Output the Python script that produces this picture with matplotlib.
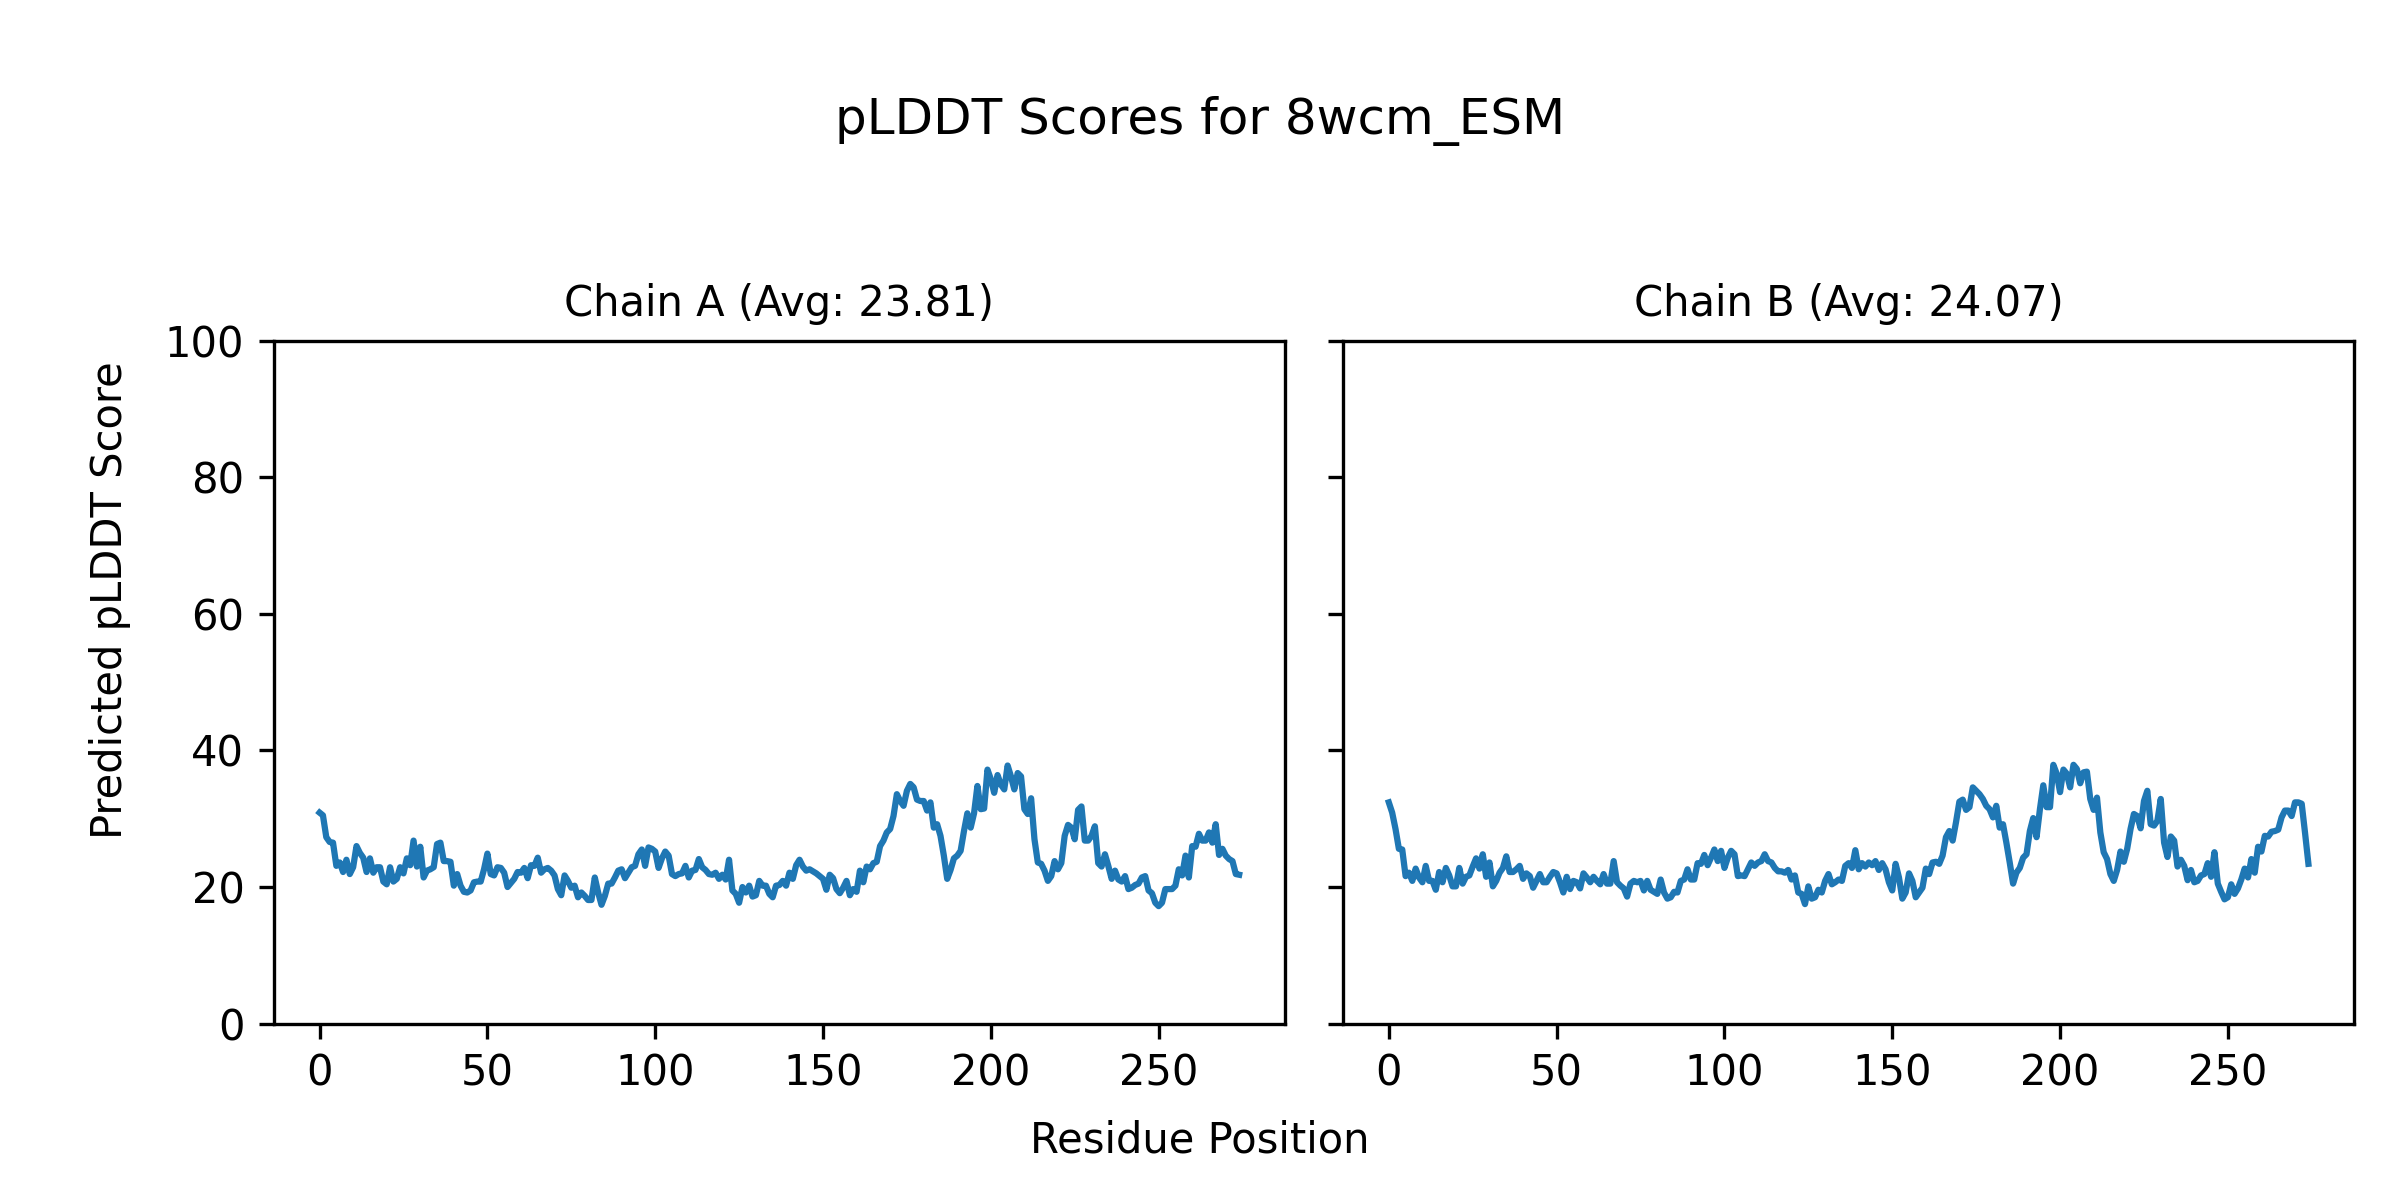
import matplotlib
matplotlib.use('Agg')
import matplotlib.pyplot as plt
import numpy as np

model_name = '8wcm_ESM'

# pLDDT per residue
chain_a = [
    30.9, 30.5, 27.3, 26.6, 26.5, 23.1, 23.6, 22.2, 24.0, 21.9,
    22.9, 26.0, 25.0, 24.3, 22.2, 24.2, 22.1, 22.9, 22.9, 20.8,
    20.4, 22.9, 20.8, 21.2, 22.9, 22.0, 24.2, 23.2, 26.8, 23.0,
    25.9, 21.4, 22.4, 22.6, 22.9, 26.3, 26.5, 23.8, 23.8, 23.7,
    20.2, 21.9, 20.2, 19.3, 19.2, 19.5, 20.7, 20.8, 20.8, 22.6,
    24.9, 21.9, 21.7, 22.9, 22.8, 22.1, 20.0, 20.6, 21.2, 22.2,
    22.1, 22.8, 21.3, 23.2, 23.1, 24.3, 22.1, 22.6, 22.8, 22.4,
    21.7, 19.7, 18.8, 21.7, 20.9, 19.9, 20.2, 18.5, 19.2, 18.7,
    18.1, 18.1, 21.4, 19.2, 17.4, 18.7, 20.5, 20.5, 21.4, 22.4,
    22.6, 21.3, 22.1, 22.9, 23.1, 24.8, 25.5, 23.1, 25.8, 25.6,
    25.2, 22.8, 24.2, 25.2, 24.6, 21.9, 21.6, 21.9, 22.0, 23.1,
    21.4, 22.4, 22.5, 24.1, 22.9, 22.5, 21.9, 21.8, 22.1, 21.2,
    21.8, 21.1, 24.0, 19.5, 19.0, 17.7, 20.0, 19.2, 20.2, 18.6,
    18.8, 20.9, 20.2, 20.2, 19.0, 18.5, 20.2, 20.3, 20.9, 20.2,
    22.1, 21.2, 23.2, 24.0, 23.0, 22.4, 22.6, 22.3, 22.0, 21.6,
    21.2, 19.6, 21.8, 21.3, 19.7, 19.1, 19.9, 20.9, 18.8, 19.7,
    19.3, 22.4, 20.7, 23.0, 22.6, 23.5, 23.7, 26.0, 26.8, 28.0,
    28.5, 30.4, 33.6, 32.6, 31.9, 34.1, 35.1, 34.6, 32.8, 32.6,
    32.6, 31.2, 32.4, 28.7, 29.2, 27.5, 24.6, 21.2, 22.5, 24.2,
    24.6, 25.3, 28.2, 30.8, 28.7, 30.8, 34.8, 31.4, 31.5, 37.2,
    35.8, 33.8, 36.4, 35.0, 34.3, 37.8, 36.2, 34.3, 36.7, 36.2,
    31.4, 30.7, 33.0, 27.0, 23.6, 23.4, 22.4, 20.9, 21.6, 23.8,
    22.6, 23.5, 27.5, 29.1, 28.7, 27.0, 31.3, 31.8, 26.8, 26.8,
    27.5, 28.9, 23.5, 23.0, 24.8, 23.1, 21.2, 22.4, 21.1, 20.8,
    21.6, 19.7, 19.9, 20.3, 20.5, 21.4, 21.6, 19.5, 19.1, 17.7,
    17.2, 17.7, 19.7, 19.7, 19.7, 20.2, 22.6, 21.7, 24.6, 21.4,
    26.0, 25.9, 27.8, 26.8, 26.8, 28.0, 26.5, 29.2, 24.7, 25.6,
    24.6, 24.1, 23.8, 21.9, 21.8,
]

chain_b = [
    32.4, 30.9, 28.5, 25.6, 25.5, 21.6, 22.1, 20.9, 22.7, 21.4,
    20.7, 23.1, 20.9, 20.9, 19.6, 22.2, 20.7, 22.8, 21.7, 20.1,
    20.1, 22.8, 20.5, 21.5, 21.7, 23.0, 24.2, 22.7, 24.8, 21.5,
    23.6, 20.1, 20.9, 22.1, 22.8, 24.5, 22.2, 22.2, 22.6, 23.1,
    21.2, 22.0, 21.6, 19.9, 20.9, 21.9, 20.7, 20.7, 21.5, 22.2,
    22.0, 20.7, 19.2, 21.5, 19.7, 20.9, 20.7, 19.8, 22.0, 21.4,
    20.7, 21.5, 20.9, 20.4, 21.9, 20.5, 20.5, 23.8, 20.7, 20.2,
    19.8, 18.6, 20.5, 20.9, 20.7, 20.9, 19.5, 20.9, 19.6, 19.3,
    19.0, 21.1, 19.2, 18.3, 18.5, 19.3, 19.2, 20.9, 21.1, 22.6,
    21.1, 21.1, 23.5, 23.4, 24.7, 23.2, 24.3, 25.5, 23.8, 25.3,
    22.8, 24.3, 25.3, 24.8, 21.6, 21.7, 21.6, 22.6, 23.6, 23.1,
    23.6, 23.8, 24.8, 23.8, 23.6, 22.8, 22.3, 22.3, 22.1, 22.5,
    21.1, 21.7, 19.2, 19.0, 17.5, 20.1, 18.3, 18.5, 19.6, 19.2,
    20.9, 21.9, 20.4, 20.7, 21.1, 20.9, 23.1, 23.5, 22.8, 25.4,
    22.6, 23.5, 23.0, 23.6, 23.2, 23.8, 22.5, 23.5, 22.6, 20.7,
    19.5, 23.4, 21.4, 18.3, 19.2, 22.0, 20.9, 18.5, 19.2, 19.9,
    22.7, 21.9, 23.6, 23.7, 23.4, 24.6, 27.3, 28.2, 26.8, 29.5,
    32.5, 32.8, 31.3, 31.7, 34.6, 34.1, 33.6, 32.9, 31.9, 31.4,
    30.2, 31.9, 28.7, 29.2, 26.5, 23.6, 20.5, 22.1, 22.8, 24.3,
    24.8, 28.2, 30.1, 27.3, 31.4, 34.9, 31.7, 31.7, 37.9, 36.6,
    33.9, 37.2, 36.6, 34.6, 37.9, 37.3, 35.2, 36.8, 36.9, 32.9,
    31.3, 33.1, 28.0, 25.1, 24.1, 21.9, 20.9, 22.5, 25.2, 23.7,
    25.6, 28.5, 30.7, 30.4, 28.6, 32.6, 34.1, 29.2, 29.0, 29.7,
    32.9, 26.5, 24.4, 27.4, 26.8, 23.0, 24.0, 23.1, 21.0, 22.5,
    20.7, 20.9, 21.7, 21.9, 23.5, 21.5, 25.1, 20.5, 19.3, 18.2,
    18.5, 20.4, 19.0, 19.8, 21.1, 22.7, 21.4, 24.1, 22.1, 25.9,
    25.2, 27.5, 27.4, 28.1, 28.2, 28.4, 30.2, 31.2, 31.2, 30.4,
    32.4, 32.4, 32.2, 27.9, 23.4,
]

chain_names = ['A', 'B']
chain_avgs = ['23.81', '24.07']

fig, axes = plt.subplots(1, 2, figsize=(8, 4), dpi=300, sharey=True)
fig.subplots_adjust(left=0.114, right=0.981, bottom=0.147, top=0.716, wspace=0.057)

for ax, name, avg, scores in zip(axes, chain_names, chain_avgs, [chain_a, chain_b]):
    residues = np.arange(len(scores))
    ax.plot(residues, scores)
    ax.set_title(f'Chain {name} (Avg: {avg})', fontsize=10)
    ax.set_ylim(0, 100)

fig.suptitle(f'pLDDT Scores for {model_name}', fontsize=12, y=0.92)
fig.supxlabel('Residue Position', fontsize=10, y=0.032)
fig.supylabel('Predicted pLDDT Score', fontsize=10, x=0.037)

plt.savefig('out.png', dpi=300)
